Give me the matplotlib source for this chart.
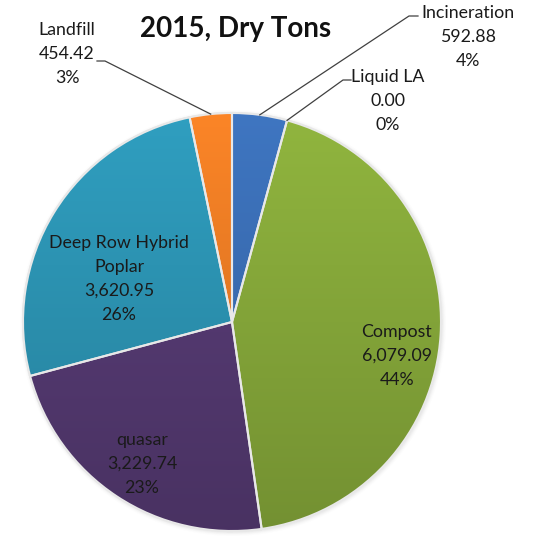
import numpy as np
import matplotlib.pyplot as plt
from matplotlib.colors import to_rgb
from matplotlib.patches import Wedge

plt.rcParams['font.family'] = ['Lato', 'DejaVu Sans']

W, H = 540, 536

categories = ["Incineration", "Liquid LA", "Compost", "quasar",
              "Deep Row Hybrid\nPoplar", "Landfill"]
tons = [592.88, 0.00, 6079.09, 3229.74, 3620.95, 454.42]
percents = [4, 0, 44, 23, 26, 3]
colors = ["#3a6db3", "#4f81bd", "#86a83a", "#553a72", "#2c93b2", "#e97b24"]

fig = plt.figure(figsize=(W / 100, H / 100), dpi=100)
ax = fig.add_axes([0, 0, 1, 1])

cx, cy, r = 232, H - 322, 209

# soft shadow behind the pie
for k, a in enumerate(np.linspace(0.05, 0.015, 4)):
    ax.add_patch(plt.Circle((cx + 1, cy - 1), r + 1 + k, color="#7f7f7f",
                            alpha=a, lw=0, zorder=0))

wedges, _ = ax.pie(tons, colors=colors, startangle=90, counterclock=False,
                   center=(cx, cy), radius=r, frame=True,
                   wedgeprops=dict(edgecolor="#e8e8e8", linewidth=1.5))
ax.set_xlim(0, W)
ax.set_ylim(0, H)
ax.set_aspect("equal")
ax.axis("off")

# light-to-dark vertical shading inside each slice
grad = np.linspace(1, 0, 256)
for w in wedges:
    if w.theta2 - w.theta1 < 1e-6:
        continue
    base = np.array(to_rgb(w.get_facecolor()))
    img = np.clip(base[None, :] * (0.86 + 0.22 * grad[:, None]), 0, 1)
    im = ax.imshow(img[:, None, :], extent=(cx - r, cx + r, cy - r, cy + r),
                   aspect="auto", zorder=1.5)
    im.set_clip_path(w)
    w.set_zorder(1)
    ax.add_patch(Wedge(w.center, w.r, w.theta1, w.theta2, facecolor="none",
                       edgecolor="#e8e8e8", linewidth=1.5, zorder=2))


def label_text(i):
    return "%s\n%s\n%d%%" % (categories[i], format(tons[i], ",.2f"),
                             percents[i])


fs = 12.8
ls = 1.6

# labels inside the big slices
inside = {2: (397, 356), 3: (142, 464), 4: (119, 279)}
for i, (x, y) in inside.items():
    ax.text(x, H - y, label_text(i), ha="center", va="center", fontsize=fs,
            color="#1a1a1a", linespacing=ls, zorder=3)

# outside labels with leader lines to the slice edge
outside = {
    0: ((468, 37), (418, 16), (409, 16)),
    1: ((388, 101), (351, 80), (343, 80)),
    5: ((67, 54), (97, 61), (105, 61)),
}
for i, ((x, y), (lx, ly), (kx, ky)) in outside.items():
    ax.text(x, H - y, label_text(i), ha="center", va="center", fontsize=fs,
            color="#1a1a1a", linespacing=ls, zorder=3)
    w = wedges[i]
    ang = np.deg2rad((w.theta1 + w.theta2) / 2)
    ex, ey = cx + r * np.cos(ang), cy + r * np.sin(ang)
    ax.plot([lx, kx, ex], [H - ly, H - ky, ey], color="#404040", lw=0.9,
            zorder=3)

ax.text(236, H - 29, "2015, Dry Tons", ha="center", va="center",
        fontsize=20, fontweight="bold", color="#111111")

fig.savefig("out.png", dpi=100)
